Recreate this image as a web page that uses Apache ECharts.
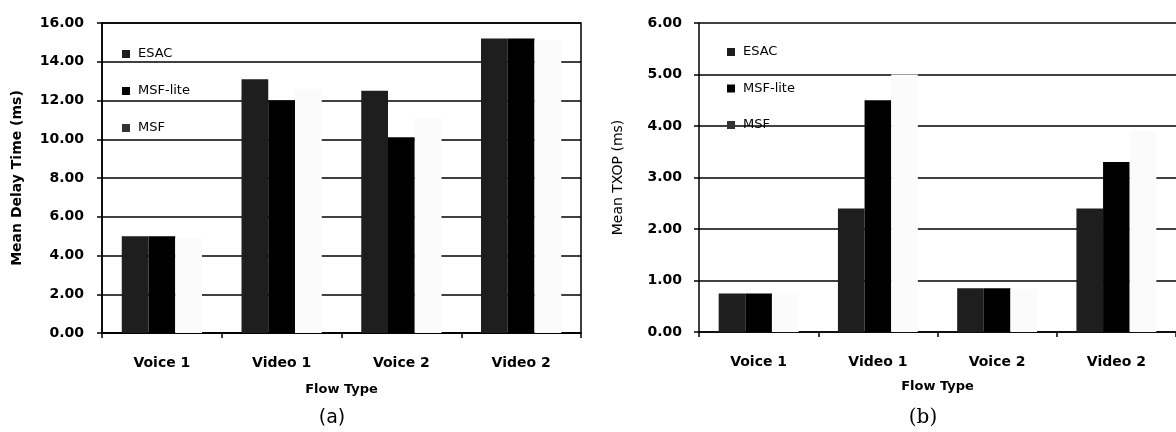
<!DOCTYPE html>
<html>
<head>
<meta charset="utf-8">
<script src="https://cdn.jsdelivr.net/npm/echarts@6/dist/echarts.min.js"></script>
<style>
html,body{margin:0;padding:0;background:#fff;}
#chart{width:1176px;height:432px;}
</style>
</head>
<body>
<div id="chart"></div>
<script>
const categories = ['Voice 1', 'Video 1', 'Voice 2', 'Video 2'];
const seriesNames = ['ESAC', 'MSF-lite', 'MSF'];
// (a) Mean Delay Time (ms)
const delayESAC = [5.0, 13.1, 12.5, 15.2];
const delayMSFlite = [5.0, 12.0, 10.1, 15.2];
const delayMSF = [4.9, 12.6, 11.1, 15.1];
// (b) Mean TXOP (ms)
const txopESAC = [0.75, 2.4, 0.85, 2.4];
const txopMSFlite = [0.75, 4.5, 0.85, 3.3];
const txopMSF = [0.72, 5.0, 0.83, 3.9];

const FONT = 'DejaVu Sans';
const barColors = ['#1e1e1e', '#000000', '#fbfbfb'];
const iconColors = ['#1e1e1e', '#000000', '#333333'];

function xAxisCfg(gridIndex, nameGap) {
  return {
    type: 'category', gridIndex: gridIndex, data: categories,
    name: 'Flow Type', nameLocation: 'middle', nameGap: nameGap,
    nameTextStyle: {fontFamily: FONT, fontWeight: 'bold', fontSize: 13, color: '#000'},
    axisLine: {lineStyle: {color: '#000', width: 1.5}},
    axisTick: {show: true, alignWithLabel: false, length: 5, lineStyle: {color: '#000', width: 1.5}},
    axisLabel: {interval: 0, margin: 23, fontFamily: FONT, fontWeight: 'bold', fontSize: 14, color: '#000'},
    splitLine: {show: false}
  };
}
function yAxisCfg(gridIndex, max, interval, name, nameGap, bold, labelMargin) {
  return {
    type: 'value', gridIndex: gridIndex, min: 0, max: max, interval: interval,
    name: name, nameLocation: 'middle', nameGap: nameGap,
    nameTextStyle: {fontFamily: FONT, fontWeight: bold ? 'bold' : 'normal', fontSize: 14, color: '#000'},
    axisLine: {show: true, lineStyle: {color: '#000', width: 1.5}},
    axisTick: {show: true, length: 5, lineStyle: {color: '#000', width: 1.5}},
    axisLabel: {margin: labelMargin, fontFamily: FONT, fontWeight: 'bold', fontSize: 14, color: '#000',
      formatter: function (v) { return v.toFixed(2); }},
    splitLine: {show: true, lineStyle: {color: '#000', width: 1.5}}
  };
}
function barSeries(name, data, idx, axisIndex) {
  return {
    type: 'bar', name: name, data: data,
    xAxisIndex: axisIndex, yAxisIndex: axisIndex,
    barGap: '0%', barCategoryGap: '33%',
    itemStyle: {color: barColors[idx]},
    emphasis: {disabled: true},
    animation: false
  };
}
function legendCfg(left, top, gap, bold) {
  return {
    orient: 'vertical', left: left, top: top, padding: 0,
    itemWidth: 8, itemHeight: 8, itemGap: gap, icon: 'rect',
    selectedMode: false,
    textStyle: {fontFamily: FONT, fontSize: 13, fontWeight: bold ? 'bold' : 'normal', color: '#000', lineHeight: 14, padding: [0, 0, 0, 3]},
    data: seriesNames.map(function (n, i) { return {name: n, itemStyle: {color: iconColors[i]}}; })
  };
}

const chart = echarts.init(document.getElementById('chart'), null, {renderer: 'canvas'});
chart.setOption({
  animation: false,
  backgroundColor: '#fff',
  grid: [
    {left: 102, top: 23, width: 479, height: 310, show: true, borderColor: '#000', borderWidth: 1.5, backgroundColor: 'transparent'},
    {left: 699, top: 23, width: 487, height: 309, show: false}
  ],
  legend: [legendCfg(122, 47, 23, false), legendCfg(727, 45, 22.5, false)],
  xAxis: [xAxisCfg(0, 50), xAxisCfg(1, 48)],
  yAxis: [
    yAxisCfg(0, 16, 2, 'Mean Delay Time (ms)', 78, true, 18),
    yAxisCfg(1, 6, 1, 'Mean TXOP (ms)', 74, false, 17)
  ],
  series: [
    barSeries('ESAC', delayESAC, 0, 0),
    barSeries('MSF-lite', delayMSFlite, 1, 0),
    barSeries('MSF', delayMSF, 2, 0),
    barSeries('ESAC', txopESAC, 0, 1),
    barSeries('MSF-lite', txopMSFlite, 1, 1),
    barSeries('MSF', txopMSF, 2, 1)
  ],
  graphic: [
    {type: 'text', x: 332, y: 418, style: {text: '(a)', fontFamily: FONT, fontSize: 19, fill: '#000', textAlign: 'center', textVerticalAlign: 'middle'}},
    {type: 'text', x: 923, y: 418, style: {text: '(b)', fontFamily: 'DejaVu Serif', fontSize: 20, fill: '#000', textAlign: 'center', textVerticalAlign: 'middle'}}
  ]
});
</script>
</body>
</html>
